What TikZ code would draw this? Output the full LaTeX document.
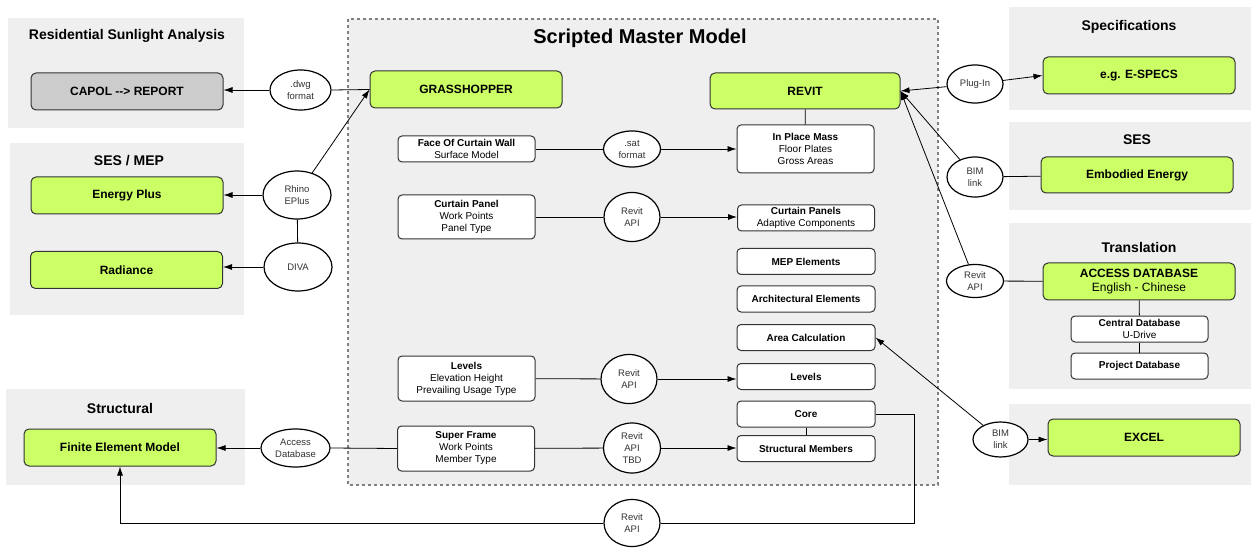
\documentclass[tikz,border=0pt]{standalone}
\usepackage{fontspec}
\setmainfont{Liberation Sans}
\usepackage{xcolor}
\usetikzlibrary{positioning}
\usetikzlibrary{shapes.geometric}
\usetikzlibrary{arrows.meta}
\definecolor{limefill}{HTML}{CCFF66}
\definecolor{panelgray}{HTML}{EFEFEF}
\definecolor{boxgray}{HTML}{CCCCCC}
\definecolor{inkgray}{HTML}{333333}

\begin{document}
\begin{tikzpicture}[x=1pt,y=-1pt,
    panel/.style={fill=panelgray,draw=none},
    ptitle/.style={font=\fontsize{14}{16}\selectfont\bfseries},
    bigbox/.style={draw=inkgray,line width=1pt,rounded corners=5pt,minimum width=192pt,minimum height=37pt,
      inner sep=0pt,font=\fontsize{12}{14}\selectfont,align=center},
    greenbox/.style={bigbox,fill=limefill},
    graybox/.style={bigbox,fill=boxgray},
    smallbox/.style={draw=inkgray,line width=1pt,rounded corners=4pt,fill=white,minimum width=137pt,
      minimum height=26pt,inner sep=0pt,font=\fontsize{10}{12}\selectfont,align=center},
    oval/.style={ellipse,draw=black,line width=1.2pt,fill=white,inner sep=0pt,
      font=\fontsize{9.5}{12}\selectfont,text=inkgray,align=center},
    link/.style={line width=0.8pt,draw=black},
    arr/.style={link,-{Latex[length=9pt,width=6pt]}}]
  \useasboundingbox (0,0) rectangle (1251,548);
  \fill[white] (0,0) rectangle (1251,548);

  \fill[panelgray] (8,18) rectangle (244,128);
  \fill[panelgray] (10,143) rectangle (244,315);
  \fill[panelgray] (6,389) rectangle (245,485);
  \fill[panelgray] (1009,7) rectangle (1251,110);
  \fill[panelgray] (1009,122) rectangle (1251,210);
  \fill[panelgray] (1009,223) rectangle (1251,389);
  \fill[panelgray] (1009,404) rectangle (1251,485);
  \draw[fill=panelgray,draw=gray,line width=1.5pt,dash pattern=on 3pt off 3pt] (348,19) rectangle (938,485);

  \node[ptitle] (tRes) at (127,36) {Residential Sunlight Analysis};
  \node[ptitle] (tMep) at (129,161) {SES / MEP};
  \node[ptitle] (tStr) at (120,408) {Structural};
  \node[font=\fontsize{20}{22}\selectfont\bfseries] (tMaster) at (640,38) {Scripted Master Model};
  \node[ptitle] (tSpec) at (1129,27) {Specifications};
  \node[ptitle] (tSes) at (1137,140) {SES};
  \node[ptitle] (tTrans) at (1139,247) {Translation};

  \node[graybox] (capol) at (127,91.5) {\textbf{CAPOL -{}-{}> REPORT}};
  \node[greenbox] (eplus) at (127,195.5) {\textbf{Energy Plus}};
  \node[greenbox] (radiance) at (126.5,270) {\textbf{Radiance}};
  \node[greenbox] (fem) at (120,447.5) {\textbf{Finite Element Model}};
  \node[greenbox] (grass) at (466,89.5) {\textbf{GRASSHOPPER}};
  \node[greenbox,minimum width=190pt,minimum height=36pt] (revit) at (805,91) {\textbf{REVIT}};
  \node[greenbox] (espec) at (1139,75.5) {\textbf{e.g. E-SPECS}};
  \node[greenbox,minimum height=36pt] (embodied) at (1137,175) {\textbf{Embodied Energy}};
  \node[greenbox] (accessdb) at (1139,281.5) {\textbf{ACCESS DATABASE}\\English - Chinese};
  \node[greenbox] (excel) at (1144,437.5) {\textbf{EXCEL}};

  \node[smallbox] (face) at (466.5,149) {\textbf{Face Of Curtain Wall}\\Surface Model};
  \node[smallbox,minimum height=44pt] (cpanel) at (466.5,217) {\textbf{Curtain Panel}\\Work Points\\Panel Type};
  \node[smallbox,minimum height=45pt] (levelsl) at (466.5,378.5) {\textbf{Levels}\\Elevation Height\\Prevailing Usage Type};
  \node[smallbox,minimum height=45pt] (superf) at (466,448.5) {\textbf{Super Frame}\\Work Points\\Member Type};
  \node[smallbox,minimum height=48pt] (mass) at (805.5,149) {\textbf{In Place Mass}\\Floor Plates\\Gross Areas};
  \node[smallbox] (cpanels) at (806,218) {\textbf{Curtain Panels}\\Adaptive Components};
  \foreach \nm/\yy/\txt in {mep/261.5/MEP Elements,arch/299/Architectural Elements,
      area/337.5/Area Calculation,levelsr/376.5/Levels,core/414/Core,struct/448.5/Structural Members}
    \node[smallbox,minimum width=138pt] (\nm) at (806,\yy) {\textbf{\txt}};
  \node[smallbox] (central) at (1139.5,329) {\textbf{Central Database}\\U-Drive};
  \node[smallbox] (project) at (1139.5,366) {\textbf{Project Database}};

  \node[oval,minimum width=61pt,minimum height=40pt] (dwg) at (300.5,90) {.dwg\\format};
  \node[oval,minimum width=68pt,minimum height=48pt] (rhino) at (297,195) {Rhino\\EPlus};
  \node[oval,minimum width=68pt,minimum height=48pt] (diva) at (298,267) {DIVA};
  \node[oval,minimum width=69pt,minimum height=38pt] (accdb) at (295.5,448) {Access\\Database};
  \node[oval,minimum width=57pt,minimum height=36pt] (sat) at (632,149) {.sat\\format};
  \node[oval,minimum width=56pt,minimum height=49pt] (rapiA) at (632,217) {Revit\\API};
  \node[oval,minimum width=56pt,minimum height=49pt] (rapiB) at (629,379) {Revit\\API};
  \node[oval,minimum width=57pt,minimum height=50pt] (rapiC) at (632,448) {Revit\\API\\TBD};
  \node[oval,minimum width=56pt,minimum height=47pt] (rapiD) at (632,523) {Revit\\API};
  \node[oval,minimum width=56pt,minimum height=38pt] (plugin) at (975,84) {Plug-In};
  \node[oval,minimum width=56pt,minimum height=40pt] (bimA) at (975,177) {BIM\\link};
  \node[oval,minimum width=57pt,minimum height=33pt] (rapiE) at (975,281) {Revit\\API};
  \node[oval,minimum width=55pt,minimum height=35pt] (bimB) at (1000.5,439.5) {BIM\\link};

  \draw[arr] (dwg.west) -- (capol.east |- dwg.west);
  \draw[link] (grass.west) -- (dwg.east);
  \draw[arr] (rhino) -- (grass.west);
  \draw[arr] (rhino.west) -- (eplus.east |- rhino.west);
  \draw[link] (rhino) -- (diva);
  \draw[arr] (diva.west) -- (radiance.east |- diva.west);
  \draw[arr] (accdb.west) -- (fem.east |- accdb.west);
  \draw[link] (superf.west) -- (accdb.east);
  \draw[link] (face) -- (sat);
  \draw[arr] (sat) -- (mass.west |- sat);
  \draw[link] (cpanel) -- (rapiA);
  \draw[arr] (rapiA) -- (cpanels.west |- rapiA);
  \draw[link] (levelsl) -- (rapiB);
  \draw[arr] (rapiB) -- (levelsr.west |- rapiB);
  \draw[link] (superf) -- (rapiC);
  \draw[arr] (rapiC) -- (struct.west |- rapiC);
  \draw[link] (revit) -- (mass);
  \draw[link] (core) -- (struct);
  \draw[link] (core.east) -- ++(39,0) |- (rapiD.east);
  \draw[arr] (rapiD.west) -| (fem.south);
  \draw[arr] (plugin) -- (revit.east);
  \draw[arr] (plugin) -- (espec.west);
  \draw[arr] (bimA) -- (revit.east);
  \draw[link] (bimA) -- (embodied);
  \draw[arr] (rapiE) -- (revit.east);
  \draw[link] (rapiE) -- (accessdb);
  \draw[link] (accessdb) -- (central);
  \draw[link] (central) -- (project);
  \draw[arr] (bimB) -- (excel.west |- bimB);
  \draw[arr] (bimB) -- (area.east);
\end{tikzpicture}
\end{document}
